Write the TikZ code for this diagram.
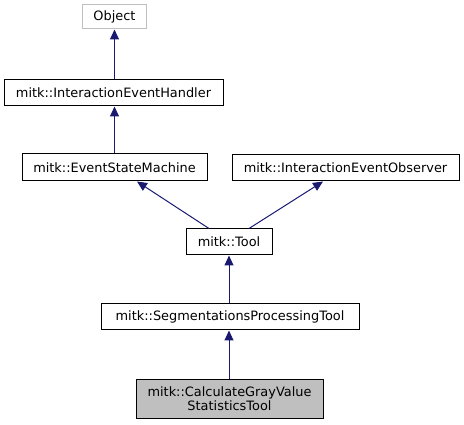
\documentclass[tikz,border=0pt]{standalone}
\usepackage{fontspec}
\setmainfont{DejaVu Sans}
\usetikzlibrary{arrows.meta,calc}
\definecolor{edgeblue}{HTML}{191970}
\definecolor{hlgray}{HTML}{BFBFBF}
\definecolor{objgray}{HTML}{BFBFBF}
\begin{document}
\begin{tikzpicture}[x=1pt,y=-1pt,
  cls/.style={draw=black,line width=1pt,fill=white,inner sep=0pt,font=\fontsize{12.9}{14.5}\selectfont,align=center},
  edge/.style={draw=edgeblue,line width=1pt,-{Triangle[length=10pt,width=9pt]}}]
\useasboundingbox (0,0) rectangle (464,425);
\node[cls,draw=objgray,minimum width=64pt,minimum height=24pt] (obj) at (114.5,17) {Object};
\node[cls,minimum width=219pt,minimum height=26pt] (ieh) at (113.5,93) {mitk::InteractionEventHandler};
\node[cls,minimum width=185pt,minimum height=27pt] (esm) at (114.5,167.5) {mitk::EventStateMachine};
\node[cls,minimum width=227pt,minimum height=26pt] (ieo) at (345.5,168) {mitk::InteractionEventObserver};
\node[cls,minimum width=86pt,minimum height=26pt] (tool) at (229,242) {mitk::Tool};
\node[cls,minimum width=258pt,minimum height=26pt] (spt) at (230,317) {mitk::SegmentationsProcessingTool};
\node[cls,fill=hlgray,minimum width=187pt,minimum height=39pt] (calc) at (229.5,398.5) {mitk::CalculateGrayValue\\StatisticsTool};
\draw[edge] (ieh.north -| obj.south) -- (obj.south);
\draw[edge] (esm.north) -- (esm.north |- ieh.south);
\draw[edge] ($(tool.north)+(-20,0)$) -- ($(esm.south)+(22.5,0)$);
\draw[edge] ($(tool.north)+(20,0)$) -- ($(ieo.south)+(-22.5,0)$);
\draw[edge] (calc.north -| tool.south) -- (tool.south |- spt.south) ;
\draw[edge] (spt.north -| tool.south) -- (tool.south);
\end{tikzpicture}
\end{document}
